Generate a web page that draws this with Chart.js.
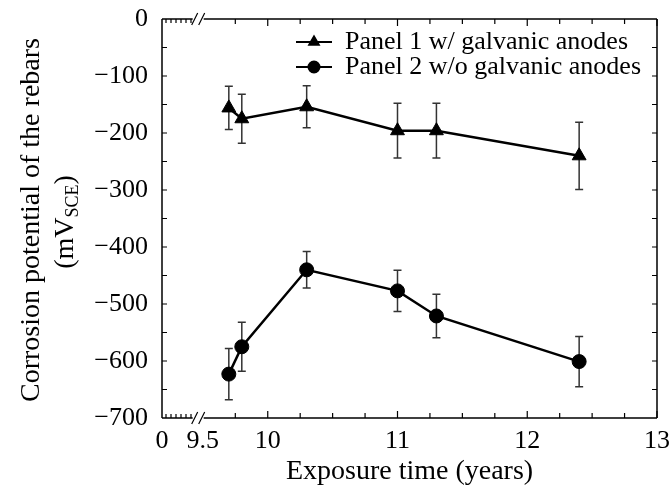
<!DOCTYPE html>
<html>
<head>
<meta charset="utf-8">
<script src="https://cdn.jsdelivr.net/npm/chart.js@4.4.1/dist/chart.umd.min.js"></script>
<style>
  body { margin: 0; background: #fff; }
</style>
</head>
<body>
<canvas id="grafik" width="671" height="492"></canvas>
<script>
// data
var seriesNames = ['Panel 1 w/ galvanic anodes', 'Panel 2 w/o galvanic anodes'];
var exposureYears = [9.7, 9.8, 10.3, 11.0, 11.3, 12.4];
var panel1 = [-156, -175, -154, -196, -196, -240];
var panel1Err = [38, 43, 37, 48, 48, 59];
var panel2 = [-623, -575, -440, -477, -521, -601];
var panel2Err = [45, 43, 32, 36, 38, 44];
var xTicks = [0, 9.5, 10, 11, 12, 13];
var yTicks = [0, -100, -200, -300, -400, -500, -600, -700];
var xTitle = 'Exposure time (years)';
var yTitle = ['Corrosion potential of the rebars', '(mV', 'SCE', ')'];

// axis is broken between 0 and 9.5, so 0 sits at this value
var X_START = 9.185;
var BREAK_AT = 9.46;

var serif = '"Liberation Serif", "Times New Roman", serif';
Chart.defaults.font.family = serif;
Chart.defaults.font.size = 26;
Chart.defaults.color = '#000';

function points(ys) {
    return exposureYears.map(function (t, i) { return { x: t, y: ys[i] }; });
}

function noPad(s) {
    s.paddingTop = 0;
    s.paddingBottom = 0;
    s.paddingLeft = 0;
    s.paddingRight = 0;
}

var errBars = {
    id: 'errBars',
    beforeDatasetsDraw: function (chart) {
        var ctx = chart.ctx, x = chart.scales.x, y = chart.scales.y;
        ctx.save();
        ctx.strokeStyle = '#333';
        ctx.lineWidth = 1.5;
        chart.data.datasets.forEach(function (ds) {
            ds.data.forEach(function (p, i) {
                var e = ds.err[i];
                var px = x.getPixelForValue(p.x);
                var top = y.getPixelForValue(p.y + e);
                var bot = y.getPixelForValue(p.y - e);
                ctx.beginPath();
                ctx.moveTo(px, top); ctx.lineTo(px, bot);
                ctx.moveTo(px - 4, top); ctx.lineTo(px + 4, top);
                ctx.moveTo(px - 4, bot); ctx.lineTo(px + 4, bot);
                ctx.stroke();
            });
        });
        ctx.restore();
    }
};

var frame = {
    id: 'frame',
    afterDraw: function (chart) {
        var ctx = chart.ctx, a = chart.chartArea, x = chart.scales.x, y = chart.scales.y;
        var bx = x.getPixelForValue(BREAK_AT);
        ctx.save();
        ctx.strokeStyle = '#000';
        ctx.lineWidth = 1.5;
        ctx.beginPath();
        ctx.moveTo(a.left, a.top); ctx.lineTo(a.left, a.bottom);
        ctx.moveTo(a.right, a.top); ctx.lineTo(a.right, a.bottom);
        [a.top, a.bottom].forEach(function (yy) {
            ctx.moveTo(a.left, yy); ctx.lineTo(bx - 5, yy);
            ctx.moveTo(bx + 6, yy); ctx.lineTo(a.right, yy);
        });
        ctx.stroke();

        // break marks
        ctx.lineWidth = 1.2;
        ctx.beginPath();
        [a.top, a.bottom].forEach(function (yy) {
            [-3, 4].forEach(function (o) {
                ctx.moveTo(bx + o - 3, yy + 6);
                ctx.lineTo(bx + o + 3, yy - 6);
            });
        });
        ctx.stroke();

        // inward ticks
        ctx.lineWidth = 1.2;
        ctx.beginPath();
        for (var v = 9.75; v <= 13.001; v += 0.25) {
            var px = x.getPixelForValue(v);
            var len = Math.abs(v - Math.round(v)) < 0.01 ? 7 : 5;
            ctx.moveTo(px, a.bottom); ctx.lineTo(px, a.bottom - len);
            ctx.moveTo(px, a.top); ctx.lineTo(px, a.top + len);
        }
        for (var k = 4; k < bx - a.left - 6; k += 5) {
            ctx.moveTo(a.left + k, a.bottom); ctx.lineTo(a.left + k, a.bottom - 4);
            ctx.moveTo(a.left + k, a.top); ctx.lineTo(a.left + k, a.top + 4);
        }
        for (var w = -650; w < 0; w += 50) {
            var py = y.getPixelForValue(w);
            ctx.moveTo(a.left, py); ctx.lineTo(a.left + 5, py);
            ctx.moveTo(a.right, py); ctx.lineTo(a.right - 5, py);
        }
        ctx.stroke();
        ctx.restore();
    }
};

var yTitlePlugin = {
    id: 'yTitle',
    afterDraw: function (chart) {
        var ctx = chart.ctx;
        var big = '28px ' + serif, small = '18px ' + serif;
        ctx.save();
        ctx.fillStyle = '#000';
        ctx.textBaseline = 'middle';
        ctx.translate(32, 220);
        ctx.rotate(-Math.PI / 2);
        ctx.font = big;
        ctx.textAlign = 'center';
        ctx.fillText(yTitle[0], 0, 0);
        ctx.restore();

        ctx.save();
        ctx.fillStyle = '#000';
        ctx.textBaseline = 'middle';
        ctx.translate(66, 222);
        ctx.rotate(-Math.PI / 2);
        ctx.font = big;
        var w1 = ctx.measureText(yTitle[1]).width;
        var w3 = ctx.measureText(yTitle[3]).width;
        ctx.font = small;
        var w2 = ctx.measureText(yTitle[2]).width;
        var x0 = -(w1 + w2 + w3) / 2;
        ctx.textAlign = 'left';
        ctx.font = big; ctx.fillText(yTitle[1], x0, 0);
        ctx.font = small; ctx.fillText(yTitle[2], x0 + w1, 7);
        ctx.font = big; ctx.fillText(yTitle[3], x0 + w1 + w2, 0);
        ctx.restore();
    }
};

var legendBox = {
    id: 'legendBox',
    afterDraw: function (chart) {
        var ctx = chart.ctx, a = chart.chartArea;
        ctx.save();
        ctx.fillStyle = '#000';
        ctx.strokeStyle = '#000';
        ctx.font = '26px ' + serif;
        ctx.textBaseline = 'middle';
        chart.data.datasets.forEach(function (ds, i) {
            var yy = a.top + 23 + i * 25;
            ctx.lineWidth = 2;
            ctx.beginPath();
            ctx.moveTo(296, yy); ctx.lineTo(332, yy);
            ctx.stroke();
            Chart.helpers.drawPoint(ctx, { pointStyle: ds.pointStyle, radius: 5.5, borderWidth: 1, rotation: 0 }, 314, yy);
            ctx.fillText(ds.label, 345, yy);
        });
        ctx.restore();
    }
};

var ctx = document.getElementById('grafik').getContext('2d');
var chart = new Chart(ctx, {
    type: 'scatter',
    data: {
        datasets: [{
            label: seriesNames[0],
            data: points(panel1),
            err: panel1Err,
            showLine: true,
            borderColor: '#000',
            backgroundColor: '#000',
            borderWidth: 2.5,
            pointStyle: 'triangle',
            pointRadius: 8,
            pointBorderWidth: 1
        }, {
            label: seriesNames[1],
            data: points(panel2),
            err: panel2Err,
            showLine: true,
            borderColor: '#000',
            backgroundColor: '#000',
            borderWidth: 2.5,
            pointStyle: 'circle',
            pointRadius: 7,
            pointBorderWidth: 1
        }]
    },
    options: {
        responsive: false,
        animation: false,
        layout: { padding: { top: 19, right: 14, left: 0, bottom: 0 } },
        plugins: { legend: { display: false }, tooltip: { enabled: false } },
        scales: {
            x: {
                type: 'linear',
                min: X_START,
                max: 13,
                grid: { display: false, drawTicks: false },
                border: { display: false },
                afterBuildTicks: function (s) {
                    s.ticks = xTicks.map(function (v) { return { value: v === 0 ? X_START : v }; });
                },
                ticks: {
                    padding: 8,
                    maxRotation: 0,
                    autoSkip: false,
                    callback: function (v) { return v <= X_START ? '0' : String(v); }
                },
                title: { display: true, text: xTitle, font: { size: 28 }, padding: { top: 0, bottom: 4 } },
                afterFit: function (s) { s.height = 74; noPad(s); }
            },
            y: {
                min: -700,
                max: 0,
                grid: { display: false, drawTicks: false },
                border: { display: false },
                afterBuildTicks: function (s) {
                    s.ticks = yTicks.map(function (v) { return { value: v }; });
                },
                ticks: {
                    padding: 14,
                    callback: function (v) { return v < 0 ? '\u2212' + Math.abs(v) : String(v); }
                },
                afterFit: function (s) { s.width = 162; noPad(s); }
            }
        }
    },
    plugins: [errBars, frame, yTitlePlugin, legendBox]
});
</script>
</body>
</html>
